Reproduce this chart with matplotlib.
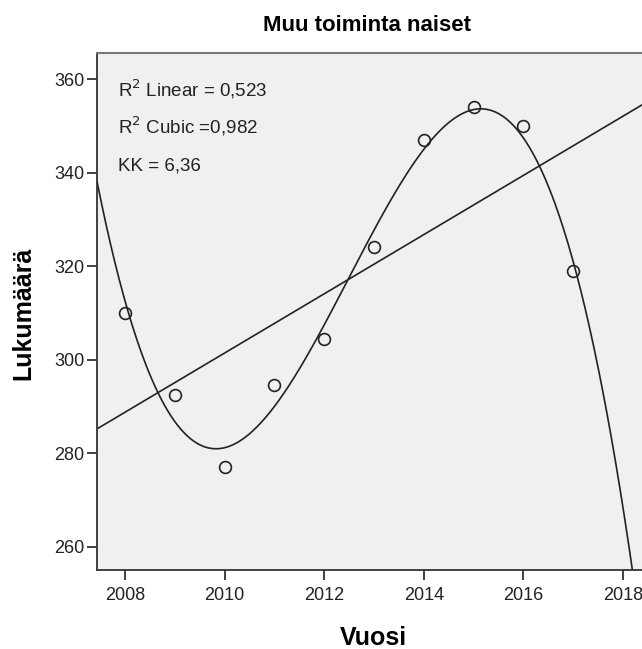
import matplotlib.pyplot as plt
import numpy as np

years = [2008, 2009, 2010, 2011, 2012, 2013, 2014, 2015, 2016, 2017]
counts = [310, 292.5, 277, 294.5, 304.5, 324, 347, 354, 350, 319]
notes = ["R$^2$ Linear = 0,523", "R$^2$ Cubic =0,982", "KK = 6,36"]

plt.rcParams['font.family'] = ['Liberation Sans', 'DejaVu Sans']

x = np.array(years, dtype=float)
y = np.array(counts, dtype=float)
x0 = x.mean()

# linear and cubic fits
lin = np.polyfit(x - x0, y, 1)
cub = np.polyfit(x - x0, y, 3)

fig = plt.figure(figsize=(6.42, 6.49), dpi=100)
# axes runs past the right edge (cropped like the original)
ax = fig.add_axes([97 / 642, 79 / 649, 563 / 642, 517 / 649])
ax.set_facecolor('#f0f0f0')

xs = np.linspace(2007.0, 2020.0, 600)
ax.plot(xs, np.polyval(lin, xs - x0), color='#222222', lw=1.2)
ax.plot(xs, np.polyval(cub, xs - x0), color='#222222', lw=1.2)
ax.plot(x, y, 'o', mfc='none', mec='#222222', ms=8.5, mew=1.2)

ax.set_xlim(2007.44, 2018.74)
ax.set_ylim(255.0, 365.6)
ax.set_xticks([2008, 2010, 2012, 2014, 2016, 2018])
ax.set_yticks([260, 280, 300, 320, 340, 360])
ax.tick_params(labelsize=13, length=7, width=1.3, color='#333333', labelcolor='#222222')
ax.tick_params(axis='x', pad=5.5)
ax.tick_params(axis='y', pad=2)

for s in ['left', 'bottom']:
    ax.spines[s].set_color('#333333')
    ax.spines[s].set_linewidth(1.3)
ax.spines['top'].set_color('#777777')
ax.spines['top'].set_linewidth(1.5)
ax.spines['right'].set_visible(False)

for i, t in enumerate(notes):
    fig.text(118 / 642, 1 - (96.7 + 36.7 * i) / 649, t, fontsize=13.5, va='baseline', ha='left', color='#222222')

fig.text(367 / 642, 1 - 31 / 649, "Muu toiminta naiset", fontsize=16, fontweight='bold', ha='center', va='baseline')
fig.text(373.5 / 642, 1 - 645 / 649, "Vuosi", fontsize=18, fontweight='bold', ha='center', va='baseline')
fig.text(23 / 642, 1 - 313.5 / 649, "Lukumäärä", fontsize=18, fontweight='bold', ha='center', va='center', rotation=90)

fig.savefig('out.png', dpi=100)
